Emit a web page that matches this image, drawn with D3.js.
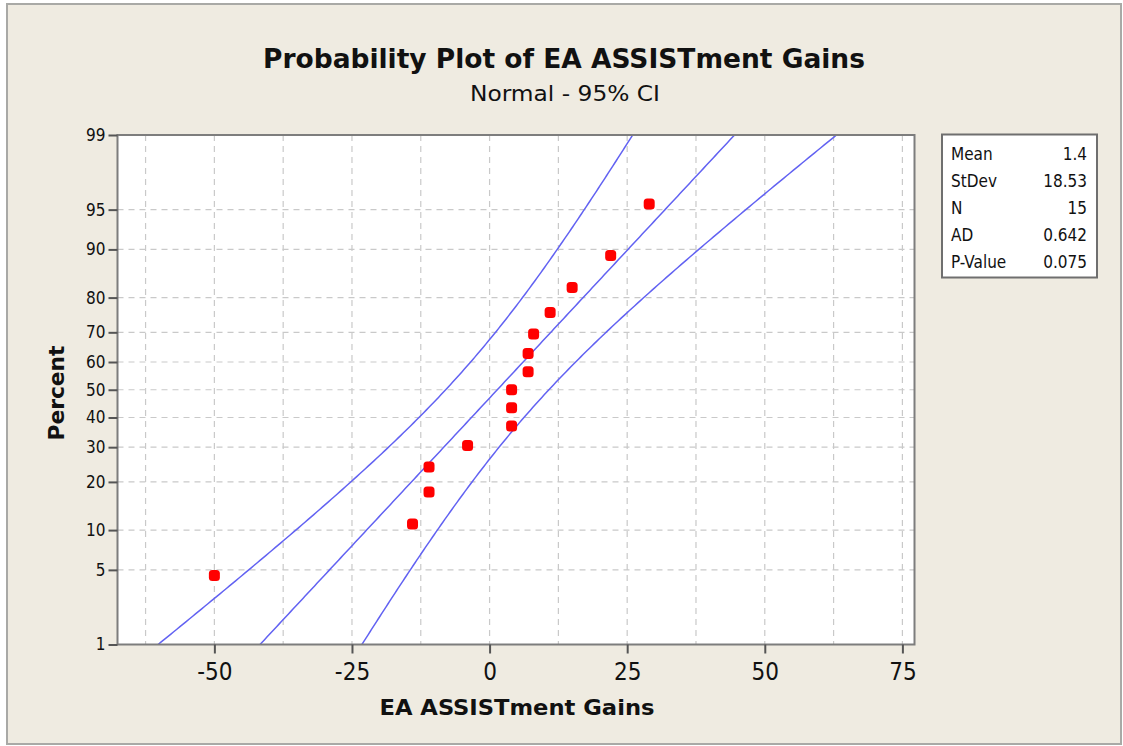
<!DOCTYPE html>
<html><head><meta charset="utf-8">
<script src="https://cdn.jsdelivr.net/npm/d3@7"></script>
<style>
body{margin:0;background:#ffffff;}
svg text{font-family:"DejaVu Sans Condensed","DejaVu Sans",sans-serif;fill:#111;}
</style>
</head><body>
<svg id="chart" width="1123" height="746"></svg>
<script>
// ---- data ----
const gains = [-50, -14, -11, -11, -4, 4, 4, 4, 7, 7, 8, 11, 15, 22, 29];
const percents = [4.5, 11.0, 17.5, 24.0, 30.5, 37.0, 43.5, 50.0, 56.5, 63.0, 69.5, 76.0, 82.5, 89.0, 95.5];
const yTicks = [1, 5, 10, 20, 30, 40, 50, 60, 70, 80, 90, 95, 99];
const xTicks = [-50, -25, 0, 25, 50, 75];
const xGrid = [-62.5, -50, -37.5, -25, -12.5, 0, 12.5, 25, 37.5, 50, 62.5, 75];
const statLabels = ["Mean", "StDev", "N", "AD", "P-Value"];
const statValues = ["1.4", "18.53", "15", "0.642", "0.075"];
const fitMean = 1.4, fitStDev = 18.53, fitN = 15;

// inverse standard normal CDF (Acklam)
function probit(p) {
  const a = [-3.969683028665376e+01, 2.209460984245205e+02, -2.759285104469687e+02, 1.383577518672690e+02, -3.066479806614716e+01, 2.506628277459239e+00];
  const b = [-5.447609879822406e+01, 1.615858368580409e+02, -1.556989798598866e+02, 6.680131188771972e+01, -1.328068155288572e+01];
  const c = [-7.784894002430293e-03, -3.223964580411365e-01, -2.400758277161838e+00, -2.549671010115381e+00, 4.374664141464968e+00, 2.938163982698783e+00];
  const d = [7.784695709041462e-03, 3.224671290700398e-01, 2.445134137142996e+00, 3.754408661907416e+00];
  const pl = 0.02425, ph = 1 - pl;
  let q, r;
  if (p < pl) { q = Math.sqrt(-2 * Math.log(p)); return (((((c[0]*q+c[1])*q+c[2])*q+c[3])*q+c[4])*q+c[5]) / ((((d[0]*q+d[1])*q+d[2])*q+d[3])*q+1); }
  if (p <= ph) { q = p - 0.5; r = q*q; return (((((a[0]*r+a[1])*r+a[2])*r+a[3])*r+a[4])*r+a[5])*q / (((((b[0]*r+b[1])*r+b[2])*r+b[3])*r+b[4])*r+1); }
  q = Math.sqrt(-2 * Math.log(1 - p)); return -(((((c[0]*q+c[1])*q+c[2])*q+c[3])*q+c[4])*q+c[5]) / ((((d[0]*q+d[1])*q+d[2])*q+d[3])*q+1);
}

const svg = d3.select("#chart");
const L = 117.5, R = 914.5, T = 135, B = 644.5;

// frame
svg.append("rect").attr("x", 7).attr("y", 4).attr("width", 1114).attr("height", 740)
  .attr("fill", "#efebe1").attr("stroke", "#a9a9a6").attr("stroke-width", 2);

const x = d3.scaleLinear().domain([-67.6, 77.2]).range([L, R]);
const zs = d3.scaleLinear().domain([probit(0.01), probit(0.99)]).range([B, T]);
const y = p => zs(probit(p / 100));

// plot background
svg.append("rect").attr("x", L).attr("y", T).attr("width", R - L).attr("height", B - T).attr("fill", "#ffffff");

// grid
const grid = svg.append("g").attr("stroke", "#c9c9c9").attr("stroke-width", 1.2).attr("stroke-dasharray", "6,5");
grid.selectAll("line.h").data(yTicks.filter(v => v > 1 && v < 99)).join("line")
  .attr("x1", L).attr("x2", R).attr("y1", d => y(d)).attr("y2", d => y(d));
grid.selectAll("line.v").data(xGrid).join("line")
  .attr("x1", d => x(d)).attr("x2", d => x(d)).attr("y1", T).attr("y2", B);

// fitted line and 95% CI bands
svg.append("clipPath").attr("id", "clip").append("rect")
  .attr("x", L).attr("y", T).attr("width", R - L).attr("height", B - T);
const zVals = d3.range(0, 201).map(i => probit(0.01) + i * (probit(0.99) - probit(0.01)) / 200);
const half = z => 1.96 * fitStDev * Math.sqrt(1 / fitN + z * z / (2 * (fitN - 1)));
const bands = [
  zVals.map(z => [fitMean + fitStDev * z - half(z), z]),
  zVals.map(z => [fitMean + fitStDev * z, z]),
  zVals.map(z => [fitMean + fitStDev * z + half(z), z])
];
const line = d3.line().x(d => x(d[0])).y(d => zs(d[1]));
svg.append("g").attr("clip-path", "url(#clip)").selectAll("path").data(bands).join("path")
  .attr("d", line).attr("fill", "none").attr("stroke", "#6262f2").attr("stroke-width", 1.5);

// points
svg.append("g").selectAll("rect").data(gains).join("rect")
  .attr("x", (d) => x(d) - 5.5).attr("y", (d, i) => y(percents[i]) - 5.5)
  .attr("width", 11).attr("height", 11).attr("rx", 3.5)
  .attr("fill", "#ff0000");

// border
svg.append("rect").attr("x", L).attr("y", T).attr("width", R - L).attr("height", B - T)
  .attr("fill", "none").attr("stroke", "#7d7d7d").attr("stroke-width", 2);

// axes
const yAxis = d3.axisLeft(zs).tickValues(yTicks.map(p => probit(p / 100))).tickFormat((d, i) => yTicks[i]).tickSize(9).tickPadding(3);
const gy = svg.append("g").attr("transform", `translate(${L},0)`).call(yAxis);
gy.select(".domain").remove();
gy.selectAll("line").attr("stroke", "#555").attr("stroke-width", 2);
gy.selectAll("text").style("font-size", "17px").attr("fill", "#111");

const xAxis = d3.axisBottom(x).tickValues(xTicks).tickFormat(d => String(d)).tickSize(9).tickPadding(9);
const gx = svg.append("g").attr("transform", `translate(0,${B})`).call(xAxis);
gx.select(".domain").remove();
gx.selectAll("line").attr("stroke", "#555").attr("stroke-width", 2);
gx.selectAll("text").style("font-size", "24px").attr("fill", "#111");

// titles
svg.append("text").attr("x", 564).attr("y", 68).attr("text-anchor", "middle")
  .style("font-size", "26px").style("font-weight", "bold")
  .attr("textLength", 602).attr("lengthAdjust", "spacingAndGlyphs")
  .text("Probability Plot of EA ASSISTment Gains");
svg.append("text").attr("x", 565).attr("y", 101).attr("text-anchor", "middle")
  .style("font-size", "21px")
  .attr("textLength", 190).attr("lengthAdjust", "spacingAndGlyphs")
  .text("Normal - 95% CI");
svg.append("text").attr("x", 517).attr("y", 715).attr("text-anchor", "middle")
  .style("font-size", "21px").style("font-weight", "bold")
  .attr("textLength", 275).attr("lengthAdjust", "spacingAndGlyphs")
  .text("EA ASSISTment Gains");
svg.append("text").attr("transform", "translate(64,393) rotate(-90)").attr("text-anchor", "middle")
  .style("font-size", "21px").style("font-weight", "bold")
  .attr("textLength", 95).attr("lengthAdjust", "spacingAndGlyphs")
  .text("Percent");

// stats box
const box = svg.append("g");
box.append("rect").attr("x", 942).attr("y", 134.5).attr("width", 155).attr("height", 143)
  .attr("fill", "#ffffff").attr("stroke", "#6f6f6f").attr("stroke-width", 2);
const rowY = d3.scalePoint().domain(statLabels).range([160, 268]);
box.selectAll("text.lab").data(statLabels).join("text").attr("class", "lab")
  .attr("x", 951).attr("y", d => rowY(d)).style("font-size", "17px").text(d => d);
box.selectAll("text.val").data(statValues).join("text").attr("class", "val")
  .attr("x", 1087).attr("y", (d, i) => rowY(statLabels[i])).attr("text-anchor", "end")
  .style("font-size", "17px").text(d => d);
</script>
</body></html>
